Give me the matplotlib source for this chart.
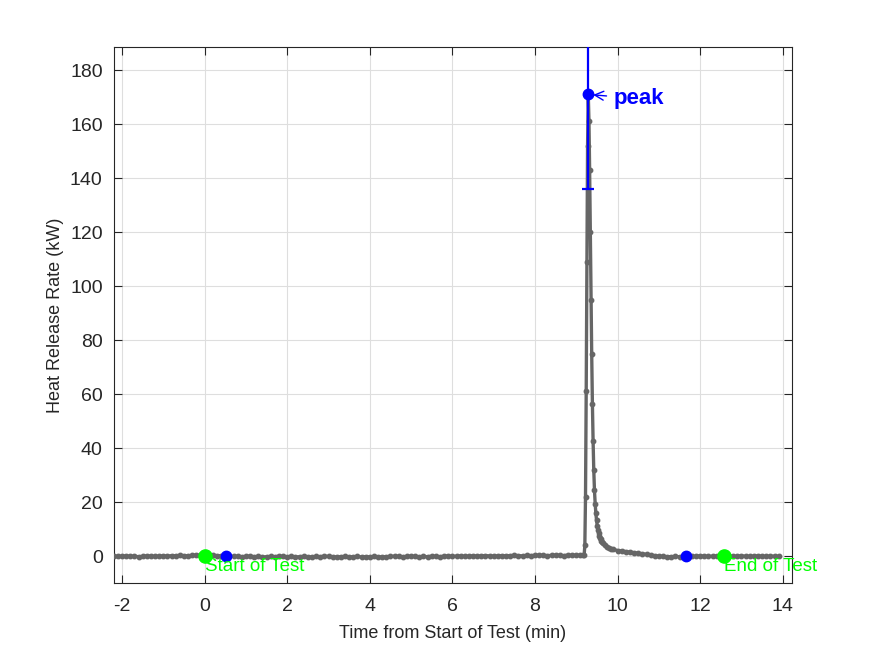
import matplotlib
matplotlib.use("Agg")
import matplotlib.pyplot as plt
import numpy as np

plt.rcParams['font.family'] = ['Liberation Sans', 'DejaVu Sans']
plt.rcParams['axes.unicode_minus'] = False

# ---- data (minutes, kW) ----
t_pre = [-2.2, -2.1, -2.0, -1.9, -1.8, -1.7, -1.6, -1.5, -1.4, -1.3,
         -1.2, -1.1, -1.0, -0.9, -0.8, -0.7, -0.6, -0.5, -0.4, -0.3,
         -0.2, -0.1, 0.0, 0.1, 0.2, 0.3, 0.4, 0.5, 0.6, 0.7,
         0.8, 0.9, 1.0, 1.1, 1.2, 1.3, 1.4, 1.5, 1.6, 1.7,
         1.8, 1.9, 2.0, 2.1, 2.2, 2.3, 2.4, 2.5, 2.6, 2.7,
         2.8, 2.9, 3.0, 3.1, 3.2, 3.3, 3.4, 3.5, 3.6, 3.7,
         3.8, 3.9, 4.0, 4.1, 4.2, 4.3, 4.4, 4.5, 4.6, 4.7,
         4.8, 4.9, 5.0, 5.1, 5.2, 5.3, 5.4, 5.5, 5.6, 5.7,
         5.8, 5.9, 6.0, 6.1, 6.2, 6.3, 6.4, 6.5, 6.6, 6.7,
         6.8, 6.9, 7.0, 7.1, 7.2, 7.3, 7.4, 7.5, 7.6, 7.7,
         7.8, 7.9, 8.0, 8.1, 8.2, 8.3, 8.4, 8.5, 8.6, 8.7,
         8.8, 8.9, 9.0, 9.1, 9.173, 9.19]
hrr_pre = [0.0, -0.1, 0.0, 0.1, -0.1, 0.0, -0.2, -0.1, 0.1, 0.0,
           -0.1, 0.0, 0.1, 0.0, 0.2, 0.1, 0.3, 0.2, 0.1, 0.3,
           0.4, 0.3, 0.5, 0.4, 0.3, 0.2, 0.1, 0.0, 0.1, -0.1,
           0.0, -0.2, -0.1, 0.0, -0.2, -0.1, -0.3, -0.2, -0.1, -0.2,
           0.0, -0.1, -0.2, -0.1, -0.3, -0.2, -0.1, -0.2, -0.3, -0.1,
           -0.2, 0.0, -0.1, -0.2, -0.3, -0.2, -0.1, -0.3, -0.2, -0.1,
           -0.3, -0.2, -0.3, -0.1, -0.2, -0.3, -0.2, -0.1, 0.0, -0.1,
           -0.2, -0.1, 0.0, -0.1, -0.2, -0.1, -0.2, 0.0, -0.1, -0.2,
           0.0, 0.1, -0.1, 0.0, 0.1, -0.1, 0.0, 0.1, 0.0, 0.1,
           0.2, 0.1, 0.0, 0.1, 0.2, 0.1, 0.2, 0.3, 0.2, 0.1,
           0.3, 0.2, 0.3, 0.4, 0.3, 0.2, 0.3, 0.4, 0.3, 0.2,
           0.4, 0.3, 0.4, 0.3, 0.3, 0.4]
t_peak = [9.207, 9.223, 9.24, 9.257, 9.273, 9.29, 9.307, 9.323, 9.34, 9.357,
          9.373, 9.39, 9.407, 9.423, 9.44, 9.457, 9.473, 9.49, 9.507, 9.523,
          9.54, 9.557, 9.573, 9.59, 9.607, 9.623]
hrr_peak = [4.1, 22.0, 61.0, 109.0, 152.0, 171.0, 161.0, 143.0, 120.0, 95.0,
            75.0, 56.5, 42.5, 32.0, 24.4, 19.5, 16.0, 13.3, 11.3, 9.8,
            8.6, 7.6, 6.9, 6.3, 5.8, 5.3]
t_tail = [9.65, 9.7, 9.75, 9.8, 9.85, 9.9, 10.0, 10.1, 10.2, 10.3,
          10.4, 10.5, 10.6, 10.7, 10.8, 10.9, 11.0, 11.1, 11.2, 11.3,
          11.4, 11.5, 11.6, 11.7, 11.8, 11.9, 12.0, 12.1, 12.2, 12.3,
          12.4, 12.5, 12.6, 12.7, 12.8, 12.9, 13.0, 13.1, 13.2, 13.3,
          13.4, 13.5, 13.6, 13.7, 13.8, 13.9]
hrr_tail = [4.7, 4.0, 3.5, 3.1, 2.8, 2.5, 2.1, 1.9, 1.7, 1.5,
            1.3, 1.1, 0.9, 0.7, 0.4, 0.2, 0.0, -0.1, -0.2, -0.2,
            -0.1, -0.2, -0.1, 0.0, -0.1, 0.0, 0.1, 0.0, -0.1, 0.0,
            0.1, 0.0, 0.1, 0.0, -0.1, 0.0, 0.1, 0.0, -0.1, 0.0,
            0.1, 0.0, -0.1, 0.0, 0.0, -0.1]

peak_t, peak_hrr, peak_err = 9.29, 171.0, 35.0
blue_t = [0.51, 11.65]
blue_hrr = [0.0, 0.0]
green_t = [0.0, 12.57]
green_hrr = [0.2, 0.0]
green_labels = ["Start of Test", "End of Test"]

xticks = [-2, 0, 2, 4, 6, 8, 10, 12, 14]
yticks = [0, 20, 40, 60, 80, 100, 120, 140, 160, 180]

t = t_pre + t_peak + t_tail
hrr = hrr_pre + hrr_peak + hrr_tail

fig = plt.figure(figsize=(8.75, 6.56), dpi=100)
ax = fig.add_axes([0.13, 0.111, 0.775, 0.817])

tc = '#262626'
ax.grid(True, color='#dedede', linewidth=0.8, zorder=0)
ax.set_axisbelow(True)

ax.plot(t, hrr, '-', color='#666666', linewidth=2.4, marker='o', markersize=3.2,
        zorder=3)

ax.plot(blue_t, blue_hrr, 'o', color='blue', markersize=7.5, zorder=5)
ax.plot(green_t, green_hrr, 'o', color='#00ff00', markersize=9.5, zorder=5)
for gt, lab in zip(green_t, green_labels):
    ax.text(gt, -0.5, lab, color='#00ff00', fontsize=13.5, ha='left', va='top', zorder=6)

ax.errorbar([peak_t], [peak_hrr], yerr=[peak_err], fmt='o', color='blue',
            markersize=7.5, elinewidth=1.6, capsize=4.5, capthick=1.6, zorder=6)
ax.annotate('peak', xy=(peak_t, peak_hrr), xytext=(9.9, 169.5), color='blue',
            fontsize=16, fontweight='bold', ha='left', va='center',
            arrowprops=dict(arrowstyle='->', color='blue', lw=1.0,
                            shrinkA=3, shrinkB=3.5), zorder=7)

ax.set_xlim(-2.2, 14.22)
ax.set_ylim(-10, 188.5)
ax.set_xticks(xticks)
ax.set_yticks(yticks)
ax.tick_params(direction='in', length=5.5, width=0.8, top=True, right=True,
               labelsize=14, colors=tc)
ax.tick_params(axis='x', pad=11)
ax.tick_params(axis='y', pad=8)
for s in ax.spines.values():
    s.set_color(tc)
    s.set_linewidth(0.8)
ax.set_xlabel('Time from Start of Test (min)', fontsize=13, color=tc, labelpad=7)
ax.set_ylabel('Heat Release Rate (kW)', fontsize=13, color=tc, labelpad=4)

fig.savefig('out.png', dpi=100)
